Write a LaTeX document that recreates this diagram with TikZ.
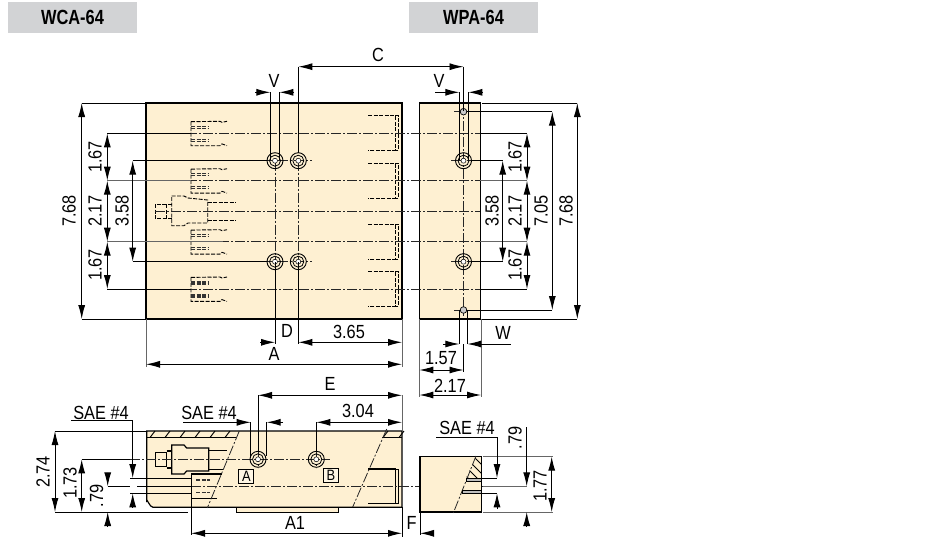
\documentclass[tikz,border=0pt]{standalone}
\usepackage{fontspec}
\setmainfont[FakeStretch=0.86]{Liberation Sans}
\newfontface\tagfont[FakeStretch=0.8]{Liberation Sans Bold}
\usetikzlibrary{arrows.meta}
\definecolor{cream}{HTML}{FEF0D2}
\definecolor{tagback}{HTML}{D2D3D5}
\definecolor{extgray}{HTML}{666666}
\tikzset{
    portleft/.pic={
        \draw[hidden] (0,-11.6) -- (29,-12) -- (31,-11) -- (36,-12)
            (0,-11.6) -- (0,12.4) -- (29,12.4) -- (31,10.6) -- (36,12.4);
        \draw[hiddenfat] (0,-7) -- (18,-7) (0,-5) -- (18,-5) (0,6) -- (18,6) (0,8) -- (18,8);
    },
    portright/.pic={
        \draw[hidden] (0,-17.4) -- (27,-17.4) -- (27,17.4) -- (0,17.4);
        \draw[hidden] (27,-17.4) -- (30.5,-17.4) -- (30.5,17.4) -- (27,17.4);
    },
    holebig/.pic={
        \draw[line width=.9pt] (0,0) circle (8);
        \draw[line width=.8pt] (0,0) circle (5.5);
        \draw[line width=.5pt, fill=white] (0,0) circle (2.5);
    }
}
\begin{document}
\begin{tikzpicture}[
        x=1pt, y=-1pt,
        >={Latex[length=14pt,width=7pt]},
        tag/.style={fill=tagback, minimum width=129pt, minimum height=31pt, inner sep=0pt, font=\fontsize{20.5}{20.5}\tagfont},
        lbl/.style={inner sep=0pt, font=\fontsize{19}{19}\selectfont},
        lblup/.style={lbl, rotate=90},
        body/.style={draw=black, line width=1.2pt, fill=cream},
        centre/.style={draw=extgray, line width=.8pt, dash pattern=on 10pt off 2pt on 2pt off 2pt},
        centredark/.style={draw=black!85, line width=.8pt, dash pattern=on 10pt off 2pt on 2pt off 2pt},
        hidden/.style={draw=black, line width=.9pt, dash pattern=on 4pt off 1.5pt},
        hiddenfat/.style={draw=black!80, line width=1.1pt, dash pattern=on 4pt off 1.5pt},
        dimline/.style={draw=black, line width=.95pt},
        extline/.style={draw=extgray, line width=.95pt},
        portbox/.style={draw=black, line width=.8pt, fill=cream!60, inner sep=0pt, minimum width=15pt, minimum height=14.5pt, font=\fontsize{15}{15}\selectfont}
    ]
    \useasboundingbox (0,0) rectangle (932,538);
    % headers
    \node[tag] (wca) at (72.5,17) {WCA-64};
    \node[tag] (wpa) at (473.5,17) {WPA-64};

    % top view
    \filldraw[body] (146,103) rectangle (402,319);
    \foreach \y in {133.3,180.7,241.7,289} {
        \pic at (191,\y) {portleft};
        \pic at (368,\y) {portright};
    }
    % middle connector, dashed
    \draw[hidden] (171.7,196) -- (184,196) -- (188,198) -- (207.7,200) -- (207.7,223) -- (188,223) -- (184,225.7) -- (171.7,225.7) -- cycle;
    \draw[hidden] (207.7,202.3) -- (236,202.3) (207.7,220) -- (236,220);
    \draw[hidden] (171.7,204.3) -- (155,204.3) -- (155,218.3) -- (171.7,218.3) (166.7,204.3) -- (166.7,218.3);
    % side view
    \filldraw[body] (419.3,103) rectangle (480.3,319);
    \foreach \y in {133.3,180.7,211.5,241.7,289}
        \draw[centredark] (155,\y) -- (480,\y);
    \foreach \x in {275,298.3}
        \draw[centredark] (\x,160.7) -- (\x,261.7);
    \draw[centredark] (463.5,105) -- (463.5,316);
    \foreach \y in {160.7,261.7} {
        \draw[centredark] (262,\y) -- (312,\y);
        \draw[centredark] (451,\y) -- (472,\y);
        \pic at (275,\y) {holebig};
        \pic at (298.3,\y) {holebig};
        \pic at (463.5,\y) {holebig};
    }
    \foreach \y in {111.7,310} {
        \draw[centredark] (454,\y) -- (472,\y);
        \filldraw[draw=black, line width=.7pt, fill=black!20] (463.5,\y) circle (3.3);
    }

    % extension lines, top view
    \draw[dimline] (146,103) -- (81.7,103) (146,319) -- (81.7,319);
    \draw[dimline] (107.3,133.3) -- (191,133.3) (107.3,289) -- (191,289);
    \draw[extline] (107.3,180.7) -- (191,180.7) (107.3,241.7) -- (223,241.7);
    \draw[dimline] (132.7,160.7) -- (267,160.7) (132.7,261.7) -- (267,261.7);
    \draw[dimline] (270.3,92.3) -- (270.3,160) (279.3,92.3) -- (279.3,160);
    \draw[dimline] (298.3,66.7) -- (298.3,153);
    \draw[dimline] (275,262) -- (275,344) (298.3,262) -- (298.3,344);
    \draw[extline] (146,319) -- (146,367) (402,319) -- (402,367);

    % dimensions, top view
    \draw[dimline,<->] (81.7,103) -- (81.7,319);
    \draw[dimline,<->] (107.3,133.3) -- (107.3,180.7);
    \draw[dimline,<->] (107.3,180.7) -- (107.3,241.7);
    \draw[dimline,<->] (107.3,241.7) -- (107.3,289);
    \draw[dimline,<->] (132.7,160.7) -- (132.7,261.7);
    \draw[dimline,<->] (298.3,66.7) -- (463.5,66.7);
    \draw[dimline,->] (255,92.3) -- (270.3,92.3);
    \draw[dimline,->] (294,92.3) -- (279.3,92.3);
    \draw[dimline,->] (260,342.3) -- (275,342.3);
    \draw[dimline,<->] (298.3,342.3) -- (402,342.3);
    \draw[dimline,<->] (146,364.3) -- (402,364.3);
    \node[lblup] (d768a) at (69,211) {7.68};
    \node[lblup] (d167a) at (95,157) {1.67};
    \node[lblup] (d217a) at (95,211) {2.17};
    \node[lblup] (d167b) at (95,265) {1.67};
    \node[lblup] (d358a) at (122,211) {3.58};
    \node[lbl] (dimC) at (378,55) {C};
    \node[lbl] (dimVa) at (274,81) {V};
    \node[lbl] (dimD) at (287,331) {D};
    \node[lbl] (d365) at (349,332) {3.65};
    \node[lbl] (dimA) at (274,354) {A};

    % extension lines, side view
    \draw[dimline] (459.3,92.3) -- (459.3,160) (468.3,92.3) -- (468.3,160);
    \draw[dimline] (463.5,66.7) -- (463.5,111);
    \draw[dimline] (482,103) -- (577.3,103) (482,319) -- (577.3,319);
    \draw[dimline] (467,111.7) -- (552.3,111.7) (467,310) -- (552.3,310);
    \draw[dimline] (471,160.7) -- (502.7,160.7) (471,261.7) -- (502.7,261.7);
    \draw[dimline] (480,133.3) -- (527,133.3) (480,289) -- (527,289);
    \draw[extline] (480,180.7) -- (527,180.7) (480,241.7) -- (527,241.7);
    \draw[dimline] (459.3,310) -- (459.3,344) (467.3,310) -- (467.3,344);
    \draw[extline] (419.3,319) -- (419.3,397) (481,319) -- (481,397);
    \draw[dimline] (463.5,344) -- (463.5,372);

    % dimensions, side view
    \draw[dimline,<->] (502.7,160.7) -- (502.7,261.7);
    \draw[dimline,<->] (527,133.3) -- (527,180.7);
    \draw[dimline,<->] (527,180.7) -- (527,241.7);
    \draw[dimline,<->] (527,241.7) -- (527,289);
    \draw[dimline,<->] (552.3,111.7) -- (552.3,310);
    \draw[dimline,<->] (577.3,103) -- (577.3,319);
    \draw[dimline,->] (435,92.3) -- (459.3,92.3);
    \draw[dimline,->] (482.7,92.3) -- (468.3,92.3);
    \draw[dimline,->] (443,344) -- (459.3,344);
    \draw[dimline,->] (510.7,344) -- (467.3,344);
    \draw[dimline,<->] (419.3,370) -- (463.5,370);
    \draw[dimline,<->] (419.3,395) -- (481,395);
    \node[lblup] (d358b) at (492,211) {3.58};
    \node[lblup] (d167c) at (515,157) {1.67};
    \node[lblup] (d217b) at (515,211) {2.17};
    \node[lblup] (d167d) at (515,265) {1.67};
    \node[lblup] (d705) at (541,211) {7.05};
    \node[lblup] (d768b) at (566,211) {7.68};
    \node[lbl] (dimVb) at (439,81) {V};
    \node[lbl] (dimW) at (503,333) {W};
    \node[lbl] (d157) at (441,358) {1.57};
    \node[lbl] (d217c) at (450,386) {2.17};

    % front view
    \filldraw[body] (146.7,431) -- (402,431) -- (402,507.3) -- (153,507.3) to[out=180,in=90] (146.7,501) -- cycle;
    \filldraw[body, line width=.8pt] (236,507.3) rectangle (338.3,512);
    \draw[dimline] (147,437.5) -- (236,437.5) (382,437.5) -- (402,437.5);
    \foreach \x in {150,165,180,195,210,225,383,399}
        \draw[dimline] (\x,437.5) -- (\x+5,431);
    \draw[dimline, line width=1.2pt] (155.7,452.7) rectangle (166.7,466.7);
    \draw[dimline, line width=1.2pt] (166.7,451) -- (171.7,451) (166.7,468) -- (171.7,468);
    \draw[dimline, line width=1.2pt] (171.7,445) -- (184,445) -- (186.7,448) -- (208.7,448) -- (208.7,471) -- (186.7,471) -- (184,474) -- (171.7,474) -- cycle;
    \draw[dimline] (208.7,450.5) -- (227,450.5) (208.7,469) -- (223,469);
    \draw[dimline, line width=1.2pt] (217,498.3) -- (191.7,498.3) -- (191.7,474) -- (222,474);
    \draw[hiddenfat] (196,480) -- (210,480) (196,492.7) -- (210,492.7);
    \draw[dimline, line width=1.2pt] (368.3,469) -- (395.7,469) -- (395.7,503.3) -- (368.3,503.3);
    \draw[dimline] (395.7,469) -- (398.3,469) -- (398.3,503.3) -- (395.7,503.3);
    \draw[centredark] (239.3,431) -- (207.3,508);
    \draw[centredark] (386.7,429) -- (352.7,507);
    \draw[centredark] (130,459.3) -- (330,459.3);
    \draw[centredark] (191,486.3) -- (522,486.3);
    \draw[centredark] (258,452) -- (258,468);
    \draw[centredark] (316.3,452) -- (316.3,468);
    \foreach \x in {258,316.3}
        \pic at (\x,459.3) {holebig};
    \node[portbox] (portA) at (246.3,476.2) {A};
    \node[portbox] (portB) at (331,475.5) {B};

    % dimensions, front view
    \draw[dimline] (55,431) -- (146,431);
    \draw[dimline] (81.7,459.3) -- (130,459.3);
    \draw[dimline] (107.7,486.3) -- (130,486.3) (137,486.3) -- (191.7,486.3);
    \draw[dimline] (55,512) -- (188,512);
    \draw[dimline] (130,478.3) -- (191.7,478.3) (130,493.3) -- (191.7,493.3);
    \draw[dimline,<->] (55,431) -- (55,512);
    \draw[dimline,<->] (81.7,459.3) -- (81.7,512);
    \draw[dimline,->] (107.7,472.7) -- (107.7,486.3);
    \draw[dimline,->] (107.7,527) -- (107.7,512);
    \draw[dimline] (71,420.7) -- (132.7,420.7);
    \draw[dimline,->] (132.7,420.7) -- (132.7,478);
    \draw[dimline,->] (132.7,507) -- (132.7,493.3);
    \draw[dimline] (183,422.3) -- (240,422.3);
    \draw[dimline,->] (238,422.3) -- (250.7,422.3);
    \draw[dimline,->] (283,422.3) -- (266.7,422.3);
    \draw[dimline] (250.7,422.3) -- (250.7,456) (266.7,422.3) -- (266.7,456);
    \draw[dimline] (258,395.3) -- (258,452);
    \draw[dimline,<->] (258,395.3) -- (402,395.3);
    \draw[dimline,<->] (316.3,422.3) -- (402,422.3);
    \draw[dimline] (316.3,422.3) -- (316.3,452);
    \draw[extline] (402,395) -- (402,431);
    \draw[dimline] (191,498) -- (191,535);
    \draw[dimline,<->] (191,533.3) -- (402,533.3);
    \draw[dimline] (402,507) -- (402,537) (420,512) -- (420,535);
    \draw[dimline,->] (433,533.3) -- (420,533.3);
    \node[lblup] (d274) at (43,472) {2.74};
    \node[lblup] (d173) at (70,483) {1.73};
    \node[lblup] (d079a) at (96.5,496) {.79};
    \node[lbl] (saeA) at (101,412.7) {SAE \#4};
    \node[lbl] (saeB) at (209,412.7) {SAE \#4};
    \node[lbl] (dimE) at (330,384) {E};
    \node[lbl] (d304) at (358,411) {3.04};
    \node[lbl] (dimAone) at (295,523) {A1};
    \node[lbl] (dimF) at (411.5,523) {F};

    % section view
    \filldraw[body] (420,456.7) rectangle (481.7,512);
    \begin{scope}
        \clip (476,456.7) -- (481.7,456.7) -- (481.7,478.3) -- (466,478.3) -- cycle
              (458,493.3) -- (481.7,493.3) -- (481.7,512) -- (453,512) -- cycle;
        \foreach \c in {0,9,...,72}
            \draw[dimline] (440+\c,450) -- (490+\c,500);
    \end{scope}
    \draw[centredark] (476,456) -- (453.3,513);
    \draw[dimline, fill=black!25] (466.7,478.3) rectangle (481.7,481.7);
    \draw[dimline, fill=black!25] (462,490) rectangle (481.7,493.3);
    \draw[extline] (483,456.7) -- (553,456.7) (483,512) -- (553,512);
    \draw[dimline] (481.7,478.3) -- (497,478.3) (481.7,493.3) -- (497,493.3);
    \draw[extline] (483,486.3) -- (527,486.3);
    \draw[dimline] (436,437) -- (497,437);
    \draw[dimline,->] (497,437) -- (497,478);
    \draw[dimline,->] (497,509) -- (497,493.3);
    \draw[dimline,->] (526.7,427) -- (526.7,486.3);
    \draw[dimline,->] (526.7,527) -- (526.7,512);
    \draw[dimline,<->] (551.7,456.7) -- (551.7,512);
    \node[lbl] (saeC) at (467,428) {SAE \#4};
    \node[lblup] (d079b) at (515,438) {.79};
    \node[lblup] (d177) at (540,486) {1.77};
\end{tikzpicture}
\end{document}
